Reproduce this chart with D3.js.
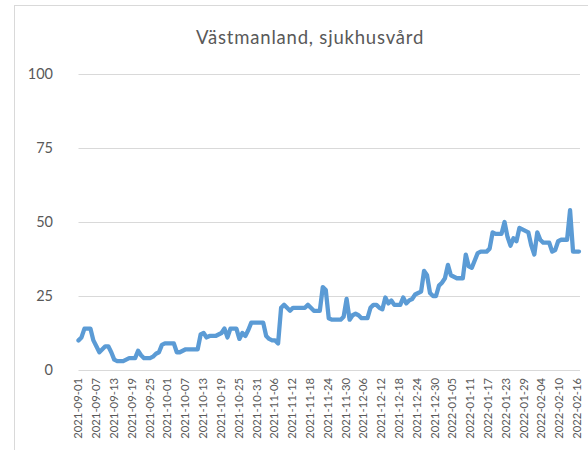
<!DOCTYPE html>
<html><head><meta charset="utf-8">
<script src="https://cdn.jsdelivr.net/npm/d3@7"></script>
<style>body{margin:0;background:#fff}svg{display:block}</style>
</head><body>
<svg id="c" width="588" height="450"></svg>
<script>
const title = "Västmanland, sjukhusvård";
const startDate = "2021-09-01";
const endDate = "2022-02-16";
const values = [
 10,11,14,14,14,10,8,6,7,8,
 8,6,3.5,3,3,3,3.5,4,4,4,
 6.5,5,4,4,4,4.5,5.5,6,8.5,9,
 9,9,9,6,6,6.5,7,7,7,7,
 7,12,12.5,11,11.5,11.5,11.5,12,12.5,14,
 11,14,14,14,10.5,12.5,11.5,13.5,16,16,
 16,16,16,11.5,10.5,10,10,9,21,22,
 21,20,21,21,21,21,21,22,21,20,
 20,20,28,27,17.5,17,17,17,17,18,
 24,17,18.5,19,18.5,17.5,17.5,17.5,21,22,
 22,21,20.5,24.5,22.5,23.5,22,22,22,24.5,
 22.5,23.5,24,25.5,26,26.5,33.5,32,26,25,
 25,28.5,29.5,31,35.5,32,31.5,31,31,31,
 39,35,34.5,37,39.5,40,40,40,41,46.5,
 46,46,46,50,45,42,44.5,43.5,48,47.5,
 47,46.5,42,39,46.5,44,43,43,43,40,
 40.5,43.5,44,44,44,54,40,40,40
];
const tickLabels = ["2021-09-01","2021-09-07","2021-09-13","2021-09-19","2021-09-25","2021-10-01","2021-10-07","2021-10-13","2021-10-19","2021-10-25","2021-10-31","2021-11-06","2021-11-12","2021-11-18","2021-11-24","2021-11-30","2021-12-06","2021-12-12","2021-12-18","2021-12-24","2021-12-30","2022-01-05","2022-01-11","2022-01-17","2022-01-23","2022-01-29","2022-02-04","2022-02-10","2022-02-16"];
const yTicks = [0,25,50,75,100];

const parse = d3.utcParse("%Y-%m-%d");
const dates = d3.utcDay.range(parse(startDate), d3.utcDay.offset(parse(endDate),1));
const data = dates.map((d,i)=>({date:d, v:values[i]}));

const svg = d3.select("#c");
const font = "Lato, 'Open Sans', sans-serif";

// chart border
svg.append("rect").attr("x",14.5).attr("y",5.5).attr("width",600).attr("height",500)
  .attr("fill","none").attr("stroke","#d9d9d9");

const x = d3.scaleUtc().domain([parse(startDate), parse(endDate)]).range([78.5, 579]);
const xLab = d3.scaleUtc().domain([parse(startDate), parse(endDate)]).range([78, 576.5]);
const y = d3.scaleLinear().domain([0,100]).range([370, 74]);

// gridlines
svg.append("g").selectAll("line").data(yTicks).join("line")
  .attr("x1",78.5).attr("x2",580).attr("y1",d=>Math.round(y(d))+0.5).attr("y2",d=>Math.round(y(d))+0.5)
  .attr("stroke","#d9d9d9").attr("stroke-width",1);

// y axis labels
const yAxis = d3.axisLeft(y).tickValues(yTicks).tickSize(0).tickPadding(0).tickFormat(d3.format("d"));
const gy = svg.append("g").attr("transform","translate(53,0)").call(yAxis);
gy.select(".domain").remove();
gy.selectAll("text").attr("font-family",font).attr("font-size",14.5).attr("fill","#595959");

// x axis
const xAxis = d3.axisBottom(xLab).tickValues(tickLabels.map(parse)).tickSize(0).tickPadding(0)
  .tickFormat(d3.utcFormat("%Y-%m-%d"));
const gx = svg.append("g").attr("transform","translate(0,370)").call(xAxis);
gx.select(".domain").remove();
gx.selectAll("text").attr("font-family",font).attr("font-size",11.3).attr("fill","#595959")
  .attr("transform","rotate(-90)").attr("text-anchor","end")
  .attr("x",-8).attr("y",0).attr("dy","0.35em");

// line
svg.append("path").datum(data)
  .attr("fill","none").attr("stroke","#5b9bd5").attr("stroke-width",4.3)
  .attr("stroke-linejoin","round").attr("stroke-linecap","round")
  .attr("d", d3.line().x(d=>x(d.date)).y(d=>y(d.v)));

// title
svg.append("text").attr("x",310).attr("y",44).attr("text-anchor","middle")
  .attr("font-family",font).attr("font-size",18.5).attr("letter-spacing",0.8)
  .attr("fill","#595959").text(title);
</script>
</body></html>
